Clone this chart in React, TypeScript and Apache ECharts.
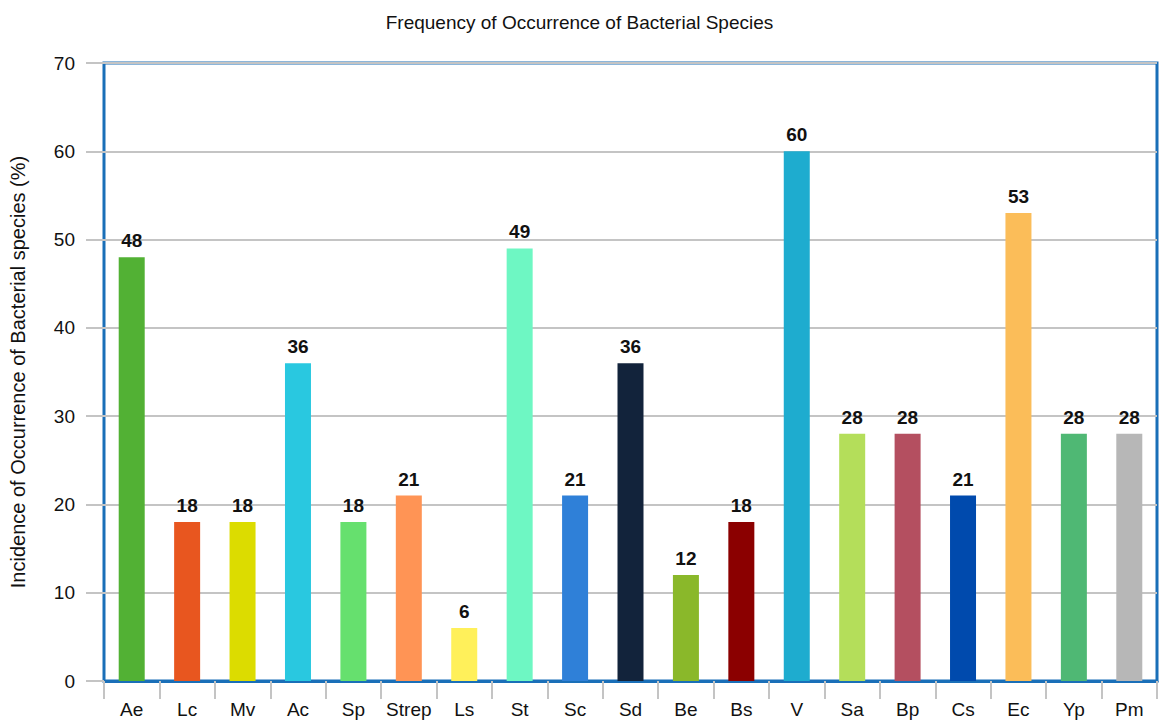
import React, { useEffect, useRef } from "react";
import * as echarts from "echarts";

const categories = ["Ae", "Lc", "Mv", "Ac", "Sp", "Strep", "Ls", "St", "Sc", "Sd", "Be", "Bs", "V", "Sa", "Bp", "Cs", "Ec", "Yp", "Pm"];
const values = [48, 18, 18, 36, 18, 21, 6, 49, 21, 36, 12, 18, 60, 28, 28, 21, 53, 28, 28];
const colors = ["#52b134", "#e8561f", "#dcdc00", "#29c8e0", "#66e06e", "#ff9455", "#fff05a", "#6ef7c3", "#2f80d8", "#12233b", "#8ab82a", "#8b0000", "#1eaccf", "#b4de5a", "#b44f60", "#004aad", "#fbbd59", "#4fb874", "#b7b7b7"];
const yTicks = { min: 0, max: 70, interval: 10 };

export default function App() {
  const ref = useRef<HTMLDivElement>(null);
  useEffect(() => {
    const chart = echarts.init(ref.current!, null, { renderer: "svg" });
    const font = "'Liberation Sans', Arial, sans-serif";
    chart.setOption({
      animation: false,
      backgroundColor: "#ffffff",
      title: {
        text: "Frequency of Occurrence of Bacterial Species",
        left: "center",
        top: 8,
        textStyle: { fontSize: 19, fontWeight: "normal", color: "#111", fontFamily: font },
      },
      grid: {
        left: 98,
        right: 2,
        top: 63,
        bottom: 39,
        show: true,
        borderColor: "#1a6fb8",
        borderWidth: 3,
        backgroundColor: "transparent",
      },
      xAxis: {
        type: "category",
        data: categories,
        axisLine: { show: true, lineStyle: { color: "#1a6fb8", width: 3 } },
        axisTick: { show: true, length: 18, lineStyle: { color: "#c4c4c4", width: 2 } },
        axisLabel: { margin: 19, fontSize: 19, color: "#111", fontFamily: font, interval: 0 },
      },
      yAxis: {
        type: "value",
        min: yTicks.min,
        max: yTicks.max,
        interval: yTicks.interval,
        name: "Incidence of Occurrence of Bacterial species (%)",
        nameLocation: "middle",
        nameGap: 76,
        nameTextStyle: { fontSize: 20, color: "#111", fontFamily: font },
        axisLine: { show: false },
        axisTick: { show: true, length: 18, lineStyle: { color: "#c4c4c4", width: 2 } },
        axisLabel: { margin: 29, fontSize: 19, color: "#111", fontFamily: font },
        splitLine: { show: true, lineStyle: { color: "#c4c4c4", width: 2 } },
      },
      series: [
        {
          type: "bar",
          barWidth: 26,
          data: values.map((v, i) => ({ value: v, itemStyle: { color: colors[i] } })),
          label: {
            show: true,
            position: "top",
            distance: 7,
            fontSize: 19,
            fontWeight: "bold",
            color: "#111",
            fontFamily: font,
          },
        },
      ],
    });
    return () => chart.dispose();
  }, []);
  return <div ref={ref} style={{ position: "fixed", left: 0, top: 0, width: 1159, height: 720 }} />;
}
